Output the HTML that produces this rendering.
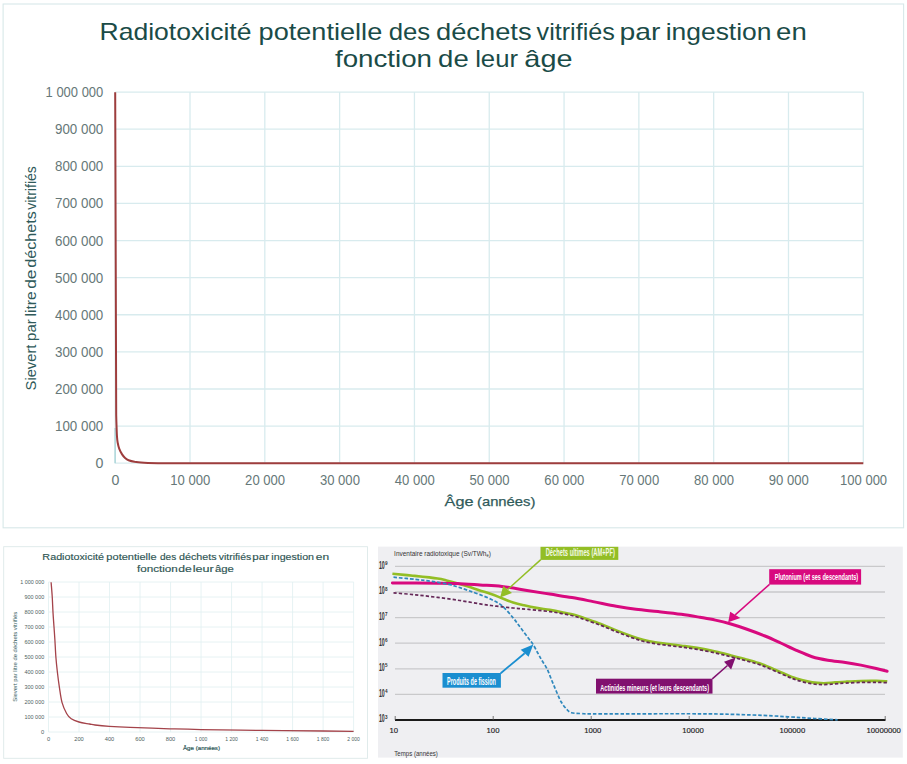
<!DOCTYPE html>
<html><head><meta charset="utf-8"><title>Radiotoxicité</title>
<style>html,body{margin:0;padding:0;background:#fff;width:907px;height:764px;overflow:hidden}svg{display:block}</style>
</head><body>
<svg width="907" height="764" viewBox="0 0 907 764" font-family="'Liberation Sans', sans-serif"><rect x="3.1" y="4.0" width="900.5" height="523.8" fill="#fff" stroke="#d8e8e9" stroke-width="1.1"/>
<text x="99.55" y="39.7" font-size="24" fill="#1a4b47" textLength="151.86" lengthAdjust="spacingAndGlyphs">Radiotoxicité</text>
<text x="258.55" y="39.7" font-size="24" fill="#1a4b47" textLength="123.68" lengthAdjust="spacingAndGlyphs">potentielle</text>
<text x="388.73" y="39.7" font-size="24" fill="#1a4b47" textLength="41.5" lengthAdjust="spacingAndGlyphs">des</text>
<text x="435.98" y="39.7" font-size="24" fill="#1a4b47" textLength="95.64" lengthAdjust="spacingAndGlyphs">déchets</text>
<text x="536.6" y="39.7" font-size="24" fill="#1a4b47" textLength="78.22" lengthAdjust="spacingAndGlyphs">vitrifiés</text>
<text x="619.53" y="39.7" font-size="24" fill="#1a4b47" textLength="40.91" lengthAdjust="spacingAndGlyphs">par</text>
<text x="665.74" y="39.7" font-size="24" fill="#1a4b47" textLength="105.71" lengthAdjust="spacingAndGlyphs">ingestion</text>
<text x="776.12" y="39.7" font-size="24" fill="#1a4b47" textLength="30.63" lengthAdjust="spacingAndGlyphs">en</text>
<text x="335.0" y="67.2" font-size="24" fill="#1a4b47" textLength="97.03" lengthAdjust="spacingAndGlyphs">fonction</text>
<text x="438.11" y="67.2" font-size="24" fill="#1a4b47" textLength="30.6" lengthAdjust="spacingAndGlyphs">de</text>
<text x="475.15" y="67.2" font-size="24" fill="#1a4b47" textLength="42.85" lengthAdjust="spacingAndGlyphs">leur</text>
<text x="524.36" y="67.2" font-size="24" fill="#1a4b47" textLength="48.09" lengthAdjust="spacingAndGlyphs">âge</text>
<line x1="115.2" y1="92.10" x2="863.3" y2="92.10" stroke="#d8ebee" stroke-width="1.3"/>
<line x1="115.2" y1="129.21" x2="863.3" y2="129.21" stroke="#d8ebee" stroke-width="1.3"/>
<line x1="115.2" y1="166.32" x2="863.3" y2="166.32" stroke="#d8ebee" stroke-width="1.3"/>
<line x1="115.2" y1="203.43" x2="863.3" y2="203.43" stroke="#d8ebee" stroke-width="1.3"/>
<line x1="115.2" y1="240.54" x2="863.3" y2="240.54" stroke="#d8ebee" stroke-width="1.3"/>
<line x1="115.2" y1="277.65" x2="863.3" y2="277.65" stroke="#d8ebee" stroke-width="1.3"/>
<line x1="115.2" y1="314.76" x2="863.3" y2="314.76" stroke="#d8ebee" stroke-width="1.3"/>
<line x1="115.2" y1="351.87" x2="863.3" y2="351.87" stroke="#d8ebee" stroke-width="1.3"/>
<line x1="115.2" y1="388.98" x2="863.3" y2="388.98" stroke="#d8ebee" stroke-width="1.3"/>
<line x1="115.2" y1="426.09" x2="863.3" y2="426.09" stroke="#d8ebee" stroke-width="1.3"/>
<line x1="115.2" y1="463.20" x2="863.3" y2="463.20" stroke="#d8ebee" stroke-width="1.3"/>
<line x1="115.20" y1="92.1" x2="115.20" y2="463.2" stroke="#d8ebee" stroke-width="1.3"/>
<line x1="190.01" y1="92.1" x2="190.01" y2="463.2" stroke="#d8ebee" stroke-width="1.3"/>
<line x1="264.82" y1="92.1" x2="264.82" y2="463.2" stroke="#d8ebee" stroke-width="1.3"/>
<line x1="339.63" y1="92.1" x2="339.63" y2="463.2" stroke="#d8ebee" stroke-width="1.3"/>
<line x1="414.44" y1="92.1" x2="414.44" y2="463.2" stroke="#d8ebee" stroke-width="1.3"/>
<line x1="489.25" y1="92.1" x2="489.25" y2="463.2" stroke="#d8ebee" stroke-width="1.3"/>
<line x1="564.06" y1="92.1" x2="564.06" y2="463.2" stroke="#d8ebee" stroke-width="1.3"/>
<line x1="638.87" y1="92.1" x2="638.87" y2="463.2" stroke="#d8ebee" stroke-width="1.3"/>
<line x1="713.68" y1="92.1" x2="713.68" y2="463.2" stroke="#d8ebee" stroke-width="1.3"/>
<line x1="788.49" y1="92.1" x2="788.49" y2="463.2" stroke="#d8ebee" stroke-width="1.3"/>
<line x1="863.30" y1="92.1" x2="863.30" y2="463.2" stroke="#d8ebee" stroke-width="1.3"/>
<text x="103.3" y="97.10" font-size="14" fill="#667878" text-anchor="end" textLength="57.7" lengthAdjust="spacingAndGlyphs">1 000 000</text>
<text x="103.3" y="134.21" font-size="14" fill="#667878" text-anchor="end" textLength="48.3" lengthAdjust="spacingAndGlyphs">900 000</text>
<text x="103.3" y="171.32" font-size="14" fill="#667878" text-anchor="end" textLength="48.3" lengthAdjust="spacingAndGlyphs">800 000</text>
<text x="103.3" y="208.43" font-size="14" fill="#667878" text-anchor="end" textLength="48.3" lengthAdjust="spacingAndGlyphs">700 000</text>
<text x="103.3" y="245.54" font-size="14" fill="#667878" text-anchor="end" textLength="48.3" lengthAdjust="spacingAndGlyphs">600 000</text>
<text x="103.3" y="282.65" font-size="14" fill="#667878" text-anchor="end" textLength="48.3" lengthAdjust="spacingAndGlyphs">500 000</text>
<text x="103.3" y="319.76" font-size="14" fill="#667878" text-anchor="end" textLength="48.3" lengthAdjust="spacingAndGlyphs">400 000</text>
<text x="103.3" y="356.87" font-size="14" fill="#667878" text-anchor="end" textLength="48.3" lengthAdjust="spacingAndGlyphs">300 000</text>
<text x="103.3" y="393.98" font-size="14" fill="#667878" text-anchor="end" textLength="48.3" lengthAdjust="spacingAndGlyphs">200 000</text>
<text x="103.3" y="431.09" font-size="14" fill="#667878" text-anchor="end" textLength="48.3" lengthAdjust="spacingAndGlyphs">100 000</text>
<text x="103.3" y="468.20" font-size="14" fill="#667878" text-anchor="end" textLength="7.9" lengthAdjust="spacingAndGlyphs">0</text>
<text x="115.50" y="485.3" font-size="14" fill="#667878" text-anchor="middle" textLength="7.9" lengthAdjust="spacingAndGlyphs">0</text>
<text x="190.31" y="485.3" font-size="14" fill="#667878" text-anchor="middle" textLength="40" lengthAdjust="spacingAndGlyphs">10 000</text>
<text x="265.12" y="485.3" font-size="14" fill="#667878" text-anchor="middle" textLength="40" lengthAdjust="spacingAndGlyphs">20 000</text>
<text x="339.93" y="485.3" font-size="14" fill="#667878" text-anchor="middle" textLength="40" lengthAdjust="spacingAndGlyphs">30 000</text>
<text x="414.74" y="485.3" font-size="14" fill="#667878" text-anchor="middle" textLength="40" lengthAdjust="spacingAndGlyphs">40 000</text>
<text x="489.55" y="485.3" font-size="14" fill="#667878" text-anchor="middle" textLength="40" lengthAdjust="spacingAndGlyphs">50 000</text>
<text x="564.36" y="485.3" font-size="14" fill="#667878" text-anchor="middle" textLength="40" lengthAdjust="spacingAndGlyphs">60 000</text>
<text x="639.17" y="485.3" font-size="14" fill="#667878" text-anchor="middle" textLength="40" lengthAdjust="spacingAndGlyphs">70 000</text>
<text x="713.98" y="485.3" font-size="14" fill="#667878" text-anchor="middle" textLength="40" lengthAdjust="spacingAndGlyphs">80 000</text>
<text x="788.79" y="485.3" font-size="14" fill="#667878" text-anchor="middle" textLength="40" lengthAdjust="spacingAndGlyphs">90 000</text>
<text x="863.60" y="485.3" font-size="14" fill="#667878" text-anchor="middle" textLength="47" lengthAdjust="spacingAndGlyphs">100 000</text>
<text x="444.57" y="505.8" font-size="13.5" fill="#2f5a5a" stroke="#2f5a5a" stroke-width="0.25" textLength="28.88" lengthAdjust="spacingAndGlyphs">Âge</text>
<text x="476.98" y="505.8" font-size="13.5" fill="#2f5a5a" stroke="#2f5a5a" stroke-width="0.25" textLength="58.44" lengthAdjust="spacingAndGlyphs">(années)</text>
<text transform="translate(36.2 390.44) rotate(-90)" font-size="14.5" fill="#2f5a5a" textLength="45.85" lengthAdjust="spacingAndGlyphs">Sievert</text>
<text transform="translate(36.2 340.89) rotate(-90)" font-size="14.5" fill="#2f5a5a" textLength="21.54" lengthAdjust="spacingAndGlyphs">par</text>
<text transform="translate(36.2 316.48) rotate(-90)" font-size="14.5" fill="#2f5a5a" textLength="25.13" lengthAdjust="spacingAndGlyphs">litre</text>
<text transform="translate(36.2 288.87) rotate(-90)" font-size="14.5" fill="#2f5a5a" textLength="19.36" lengthAdjust="spacingAndGlyphs">de</text>
<text transform="translate(36.2 267.81) rotate(-90)" font-size="14.5" fill="#2f5a5a" textLength="56.62" lengthAdjust="spacingAndGlyphs">déchets</text>
<text transform="translate(36.2 209.81) rotate(-90)" font-size="14.5" fill="#2f5a5a" textLength="43.62" lengthAdjust="spacingAndGlyphs">vitrifiés</text>
<line x1="115.1" y1="428" x2="115.1" y2="463.3" stroke="#a6d3d8" stroke-width="1.3"/>
<path d="M115.2,92.3 L116.20,415.00 C116.25,416.67 116.37,421.37 116.50,425.00 C116.63,428.63 116.80,433.85 117.00,436.80 C117.20,439.75 117.33,440.73 117.70,442.70 C118.07,444.67 118.47,446.65 119.20,448.60 C119.93,450.55 121.12,452.83 122.10,454.40 C123.08,455.97 124.02,457.02 125.10,458.00 C126.18,458.98 127.03,459.67 128.60,460.30 C130.17,460.93 131.27,461.37 134.50,461.80 C137.73,462.23 137.08,462.67 148.00,462.90 C158.92,463.13 174.67,463.13 200.00,463.20 C225.33,463.27 283.33,463.28 300.00,463.30 L863.3,463.3" fill="none" stroke="#9e3d3d" stroke-width="2.0"/>
<rect x="3.7" y="546.7" width="363.8" height="211.6" fill="#fff" stroke="#dde9e9" stroke-width="0.9"/>
<text x="42.38" y="560.4" font-size="9.3" fill="#2e5553" stroke="#2e5553" stroke-width="0.15" textLength="61.63" lengthAdjust="spacingAndGlyphs">Radiotoxicité</text>
<text x="106.39" y="560.4" font-size="9.3" fill="#2e5553" stroke="#2e5553" stroke-width="0.15" textLength="50.23" lengthAdjust="spacingAndGlyphs">potentielle</text>
<text x="160.0" y="560.4" font-size="9.3" fill="#2e5553" stroke="#2e5553" stroke-width="0.15" textLength="16.23" lengthAdjust="spacingAndGlyphs">des</text>
<text x="179.0" y="560.4" font-size="9.3" fill="#2e5553" stroke="#2e5553" stroke-width="0.15" textLength="37.61" lengthAdjust="spacingAndGlyphs">déchets</text>
<text x="218.78" y="560.4" font-size="9.3" fill="#2e5553" stroke="#2e5553" stroke-width="0.15" textLength="32.43" lengthAdjust="spacingAndGlyphs">vitrifiés</text>
<text x="252.36" y="560.4" font-size="9.3" fill="#2e5553" stroke="#2e5553" stroke-width="0.15" textLength="16.64" lengthAdjust="spacingAndGlyphs">par</text>
<text x="271.38" y="560.4" font-size="9.3" fill="#2e5553" stroke="#2e5553" stroke-width="0.15" textLength="42.64" lengthAdjust="spacingAndGlyphs">ingestion</text>
<text x="315.8" y="560.4" font-size="9.3" fill="#2e5553" stroke="#2e5553" stroke-width="0.15" textLength="13.34" lengthAdjust="spacingAndGlyphs">en</text>
<text x="136.97" y="572.2" font-size="9.3" fill="#2e5553" stroke="#2e5553" stroke-width="0.15" textLength="40.88" lengthAdjust="spacingAndGlyphs">fonction</text>
<text x="178.31" y="572.2" font-size="9.3" fill="#2e5553" stroke="#2e5553" stroke-width="0.15" textLength="13.53" lengthAdjust="spacingAndGlyphs">de</text>
<text x="192.77" y="572.2" font-size="9.3" fill="#2e5553" stroke="#2e5553" stroke-width="0.15" textLength="21.05" lengthAdjust="spacingAndGlyphs">leur</text>
<text x="214.96" y="572.2" font-size="9.3" fill="#2e5553" stroke="#2e5553" stroke-width="0.15" textLength="18.87" lengthAdjust="spacingAndGlyphs">âge</text>
<line x1="48.5" y1="582.00" x2="353.6" y2="582.00" stroke="#e0eff0" stroke-width="0.8"/>
<line x1="48.5" y1="597.00" x2="353.6" y2="597.00" stroke="#e0eff0" stroke-width="0.8"/>
<line x1="48.5" y1="612.00" x2="353.6" y2="612.00" stroke="#e0eff0" stroke-width="0.8"/>
<line x1="48.5" y1="627.00" x2="353.6" y2="627.00" stroke="#e0eff0" stroke-width="0.8"/>
<line x1="48.5" y1="642.00" x2="353.6" y2="642.00" stroke="#e0eff0" stroke-width="0.8"/>
<line x1="48.5" y1="657.00" x2="353.6" y2="657.00" stroke="#e0eff0" stroke-width="0.8"/>
<line x1="48.5" y1="672.00" x2="353.6" y2="672.00" stroke="#e0eff0" stroke-width="0.8"/>
<line x1="48.5" y1="687.00" x2="353.6" y2="687.00" stroke="#e0eff0" stroke-width="0.8"/>
<line x1="48.5" y1="702.00" x2="353.6" y2="702.00" stroke="#e0eff0" stroke-width="0.8"/>
<line x1="48.5" y1="717.00" x2="353.6" y2="717.00" stroke="#e0eff0" stroke-width="0.8"/>
<line x1="48.5" y1="732.00" x2="353.6" y2="732.00" stroke="#e0eff0" stroke-width="0.8"/>
<line x1="48.50" y1="582.0" x2="48.50" y2="732.0" stroke="#e0eff0" stroke-width="0.8"/>
<line x1="79.01" y1="582.0" x2="79.01" y2="732.0" stroke="#e0eff0" stroke-width="0.8"/>
<line x1="109.52" y1="582.0" x2="109.52" y2="732.0" stroke="#e0eff0" stroke-width="0.8"/>
<line x1="140.03" y1="582.0" x2="140.03" y2="732.0" stroke="#e0eff0" stroke-width="0.8"/>
<line x1="170.54" y1="582.0" x2="170.54" y2="732.0" stroke="#e0eff0" stroke-width="0.8"/>
<line x1="201.05" y1="582.0" x2="201.05" y2="732.0" stroke="#e0eff0" stroke-width="0.8"/>
<line x1="231.56" y1="582.0" x2="231.56" y2="732.0" stroke="#e0eff0" stroke-width="0.8"/>
<line x1="262.07" y1="582.0" x2="262.07" y2="732.0" stroke="#e0eff0" stroke-width="0.8"/>
<line x1="292.58" y1="582.0" x2="292.58" y2="732.0" stroke="#e0eff0" stroke-width="0.8"/>
<line x1="323.09" y1="582.0" x2="323.09" y2="732.0" stroke="#e0eff0" stroke-width="0.8"/>
<line x1="353.60" y1="582.0" x2="353.60" y2="732.0" stroke="#e0eff0" stroke-width="0.8"/>
<text x="44.2" y="584.00" font-size="5.7" fill="#4f5f5f" text-anchor="end" textLength="23.9" lengthAdjust="spacingAndGlyphs">1 000 000</text>
<text x="44.2" y="599.00" font-size="5.7" fill="#4f5f5f" text-anchor="end" textLength="19.7" lengthAdjust="spacingAndGlyphs">900 000</text>
<text x="44.2" y="614.00" font-size="5.7" fill="#4f5f5f" text-anchor="end" textLength="19.7" lengthAdjust="spacingAndGlyphs">800 000</text>
<text x="44.2" y="629.00" font-size="5.7" fill="#4f5f5f" text-anchor="end" textLength="19.7" lengthAdjust="spacingAndGlyphs">700 000</text>
<text x="44.2" y="644.00" font-size="5.7" fill="#4f5f5f" text-anchor="end" textLength="19.7" lengthAdjust="spacingAndGlyphs">600 000</text>
<text x="44.2" y="659.00" font-size="5.7" fill="#4f5f5f" text-anchor="end" textLength="19.7" lengthAdjust="spacingAndGlyphs">500 000</text>
<text x="44.2" y="674.00" font-size="5.7" fill="#4f5f5f" text-anchor="end" textLength="19.7" lengthAdjust="spacingAndGlyphs">400 000</text>
<text x="44.2" y="689.00" font-size="5.7" fill="#4f5f5f" text-anchor="end" textLength="19.7" lengthAdjust="spacingAndGlyphs">300 000</text>
<text x="44.2" y="704.00" font-size="5.7" fill="#4f5f5f" text-anchor="end" textLength="19.7" lengthAdjust="spacingAndGlyphs">200 000</text>
<text x="44.2" y="719.00" font-size="5.7" fill="#4f5f5f" text-anchor="end" textLength="19.7" lengthAdjust="spacingAndGlyphs">100 000</text>
<text x="44.2" y="734.00" font-size="5.7" fill="#4f5f5f" text-anchor="end" textLength="3.2" lengthAdjust="spacingAndGlyphs">0</text>
<text x="48.50" y="741" font-size="5.7" fill="#4f5f5f" text-anchor="middle" textLength="3.2" lengthAdjust="spacingAndGlyphs">0</text>
<text x="79.01" y="741" font-size="5.7" fill="#4f5f5f" text-anchor="middle" textLength="9.5" lengthAdjust="spacingAndGlyphs">200</text>
<text x="109.52" y="741" font-size="5.7" fill="#4f5f5f" text-anchor="middle" textLength="9.5" lengthAdjust="spacingAndGlyphs">400</text>
<text x="140.03" y="741" font-size="5.7" fill="#4f5f5f" text-anchor="middle" textLength="9.5" lengthAdjust="spacingAndGlyphs">600</text>
<text x="170.54" y="741" font-size="5.7" fill="#4f5f5f" text-anchor="middle" textLength="9.5" lengthAdjust="spacingAndGlyphs">800</text>
<text x="201.05" y="741" font-size="5.7" fill="#4f5f5f" text-anchor="middle" textLength="12.5" lengthAdjust="spacingAndGlyphs">1 000</text>
<text x="231.56" y="741" font-size="5.7" fill="#4f5f5f" text-anchor="middle" textLength="12.5" lengthAdjust="spacingAndGlyphs">1 200</text>
<text x="262.07" y="741" font-size="5.7" fill="#4f5f5f" text-anchor="middle" textLength="12.5" lengthAdjust="spacingAndGlyphs">1 400</text>
<text x="292.58" y="741" font-size="5.7" fill="#4f5f5f" text-anchor="middle" textLength="12.5" lengthAdjust="spacingAndGlyphs">1 600</text>
<text x="323.09" y="741" font-size="5.7" fill="#4f5f5f" text-anchor="middle" textLength="12.5" lengthAdjust="spacingAndGlyphs">1 800</text>
<text x="353.60" y="741" font-size="5.7" fill="#4f5f5f" text-anchor="middle" textLength="12.5" lengthAdjust="spacingAndGlyphs">2 000</text>
<text x="201.5" y="750" font-size="5.8" fill="#2f5a5a" stroke="#2f5a5a" stroke-width="0.2" text-anchor="middle" textLength="37" lengthAdjust="spacingAndGlyphs">Âge (années)</text>
<text transform="translate(17 656.8) rotate(-90)" font-size="5.9" fill="#2f5a5a" text-anchor="middle" textLength="90" lengthAdjust="spacingAndGlyphs">Sievert par litre de déchets vitrifiés</text>
<path d="M51.10,582.20 C51.28,584.55 51.88,591.27 52.20,596.30 C52.52,601.33 52.70,607.30 53.00,612.40 C53.30,617.50 53.68,622.30 54.00,626.90 C54.32,631.50 54.58,634.93 54.90,640.00 C55.22,645.07 55.48,651.92 55.90,657.30 C56.32,662.68 56.82,667.28 57.40,672.30 C57.98,677.32 58.63,682.38 59.40,687.40 C60.17,692.42 60.80,698.05 62.00,702.40 C63.20,706.75 65.07,710.77 66.60,713.50 C68.13,716.23 69.13,717.38 71.20,718.80 C73.27,720.22 75.95,721.13 79.00,722.00 C82.05,722.87 86.83,723.50 89.50,724.00 C92.17,724.50 91.68,724.62 95.00,725.00 C98.32,725.38 103.57,725.90 109.40,726.30 C115.23,726.70 119.90,726.98 130.00,727.40 C140.10,727.82 158.17,728.43 170.00,728.80 C181.83,729.17 185.67,729.33 201.00,729.60 C216.33,729.87 241.67,730.17 262.00,730.40 C282.33,730.63 307.73,730.85 323.00,731.00 C338.27,731.15 348.50,731.25 353.60,731.30" fill="none" stroke="#a4434a" stroke-width="1.3"/>
<rect x="378" y="546.6" width="524.8" height="211" fill="#efeff2"/>
<line x1="395" y1="694.4" x2="885" y2="694.4" stroke="#c9c9cb" stroke-width="1.3"/>
<line x1="395" y1="668.8" x2="885" y2="668.8" stroke="#c9c9cb" stroke-width="1.3"/>
<line x1="395" y1="643.2" x2="885" y2="643.2" stroke="#c9c9cb" stroke-width="1.3"/>
<line x1="395" y1="617.6" x2="885" y2="617.6" stroke="#c9c9cb" stroke-width="1.3"/>
<line x1="395" y1="592.0" x2="885" y2="592.0" stroke="#c9c9cb" stroke-width="1.3"/>
<line x1="395" y1="566.4" x2="885" y2="566.4" stroke="#c9c9cb" stroke-width="1.3"/>
<line x1="395" y1="720" x2="885.5" y2="720" stroke="#1a1a1a" stroke-width="2.2"/>
<line x1="395.2" y1="716" x2="395.2" y2="720" stroke="#555" stroke-width="0.8"/>
<line x1="493.2" y1="716" x2="493.2" y2="720" stroke="#555" stroke-width="0.8"/>
<line x1="591.2" y1="716" x2="591.2" y2="720" stroke="#555" stroke-width="0.8"/>
<line x1="689.2" y1="716" x2="689.2" y2="720" stroke="#555" stroke-width="0.8"/>
<line x1="787.2" y1="716" x2="787.2" y2="720" stroke="#555" stroke-width="0.8"/>
<line x1="885.2" y1="716" x2="885.2" y2="720" stroke="#555" stroke-width="0.8"/>
<text x="378.9" y="722.4" font-size="10" font-weight="bold" fill="#333" textLength="5.8" lengthAdjust="spacingAndGlyphs">10</text>
<text x="384.9" y="718.6" font-size="4.6" font-weight="bold" fill="#333">3</text>
<text x="378.9" y="696.8" font-size="10" font-weight="bold" fill="#333" textLength="5.8" lengthAdjust="spacingAndGlyphs">10</text>
<text x="384.9" y="693.0" font-size="4.6" font-weight="bold" fill="#333">4</text>
<text x="378.9" y="671.2" font-size="10" font-weight="bold" fill="#333" textLength="5.8" lengthAdjust="spacingAndGlyphs">10</text>
<text x="384.9" y="667.4" font-size="4.6" font-weight="bold" fill="#333">5</text>
<text x="378.9" y="645.6" font-size="10" font-weight="bold" fill="#333" textLength="5.8" lengthAdjust="spacingAndGlyphs">10</text>
<text x="384.9" y="641.8" font-size="4.6" font-weight="bold" fill="#333">6</text>
<text x="378.9" y="620.0" font-size="10" font-weight="bold" fill="#333" textLength="5.8" lengthAdjust="spacingAndGlyphs">10</text>
<text x="384.9" y="616.2" font-size="4.6" font-weight="bold" fill="#333">7</text>
<text x="378.9" y="594.4" font-size="10" font-weight="bold" fill="#333" textLength="5.8" lengthAdjust="spacingAndGlyphs">10</text>
<text x="384.9" y="590.6" font-size="4.6" font-weight="bold" fill="#333">8</text>
<text x="378.9" y="568.8" font-size="10" font-weight="bold" fill="#333" textLength="5.8" lengthAdjust="spacingAndGlyphs">10</text>
<text x="384.9" y="565.0" font-size="4.6" font-weight="bold" fill="#333">9</text>
<text x="393.7" y="733.3" font-size="7.8" fill="#222" stroke="#222" stroke-width="0.15" text-anchor="middle" textLength="8.6" lengthAdjust="spacingAndGlyphs">10</text>
<text x="493" y="733.3" font-size="7.8" fill="#222" stroke="#222" stroke-width="0.15" text-anchor="middle" textLength="12.9" lengthAdjust="spacingAndGlyphs">100</text>
<text x="592.8" y="733.3" font-size="7.8" fill="#222" stroke="#222" stroke-width="0.15" text-anchor="middle" textLength="17.2" lengthAdjust="spacingAndGlyphs">1000</text>
<text x="693" y="733.3" font-size="7.8" fill="#222" stroke="#222" stroke-width="0.15" text-anchor="middle" textLength="21.5" lengthAdjust="spacingAndGlyphs">10000</text>
<text x="792.3" y="733.3" font-size="7.8" fill="#222" stroke="#222" stroke-width="0.15" text-anchor="middle" textLength="25.8" lengthAdjust="spacingAndGlyphs">100000</text>
<text x="883.7" y="733.3" font-size="7.8" fill="#222" stroke="#222" stroke-width="0.15" text-anchor="middle" textLength="34.4" lengthAdjust="spacingAndGlyphs">10000000</text>
<text x="394.1" y="555.9" font-size="7.2" fill="#333" textLength="96.8" lengthAdjust="spacingAndGlyphs">Inventaire radiotoxique (Sv/TWh<tspan font-size="4.5" dy="1">e</tspan><tspan dy="-1">)</tspan></text>
<text x="394.3" y="755.8" font-size="7.2" fill="#333" textLength="43.6" lengthAdjust="spacingAndGlyphs">Temps (années)</text>
<path d="M392.40,573.70 C395.80,574.03 405.27,574.90 412.80,575.70 C420.33,576.50 432.07,577.73 437.60,578.50 C443.13,579.27 443.22,579.65 446.00,580.30 C448.78,580.95 450.62,581.37 454.30,582.40 C457.98,583.43 463.97,585.18 468.10,586.50 C472.23,587.82 475.28,589.07 479.10,590.30 C482.92,591.53 487.18,592.58 491.00,593.90 C494.82,595.22 498.32,596.78 502.00,598.20 C505.68,599.62 509.42,601.22 513.10,602.40 C516.78,603.58 520.22,604.38 524.10,605.30 C527.98,606.22 532.12,607.13 536.40,607.90 C540.68,608.67 545.53,609.18 549.80,609.90 C554.07,610.62 557.80,611.35 562.00,612.20 C566.20,613.05 571.10,613.95 575.00,615.00 C578.90,616.05 581.08,617.00 585.40,618.50 C589.72,620.00 595.75,622.02 600.90,624.00 C606.05,625.98 611.17,628.37 616.30,630.40 C621.43,632.43 627.25,634.63 631.70,636.20 C636.15,637.77 639.12,638.78 643.00,639.80 C646.88,640.82 651.18,641.63 655.00,642.30 C658.82,642.97 661.52,643.23 665.90,643.80 C670.28,644.37 676.12,645.02 681.30,645.70 C686.48,646.38 691.32,646.92 697.00,647.90 C702.68,648.88 709.75,650.35 715.40,651.60 C721.05,652.85 725.75,654.10 730.90,655.40 C736.05,656.70 741.12,657.93 746.30,659.40 C751.48,660.87 756.27,662.07 762.00,664.20 C767.73,666.33 774.97,669.80 780.70,672.20 C786.43,674.60 791.17,676.90 796.40,678.60 C801.63,680.30 807.52,681.63 812.10,682.40 C816.68,683.17 820.08,683.20 823.90,683.20 C827.72,683.20 831.42,682.65 835.00,682.40 C838.58,682.15 841.08,681.93 845.40,681.70 C849.72,681.47 855.75,681.13 860.90,681.00 C866.05,680.87 871.90,680.85 876.30,680.90 C880.70,680.95 885.47,681.23 887.30,681.30" fill="none" stroke="#93be25" stroke-width="2.6"/>
<path d="M392.40,582.90 C399.93,582.95 426.83,583.08 437.60,583.20 C448.37,583.32 449.93,583.30 457.00,583.60 C464.07,583.90 472.50,584.52 480.00,585.00 C487.50,585.48 494.17,585.60 502.00,586.50 C509.83,587.40 519.03,589.13 527.00,590.40 C534.97,591.67 542.30,592.90 549.80,594.10 C557.30,595.30 564.78,596.35 572.00,597.60 C579.22,598.85 585.72,600.17 593.10,601.60 C600.48,603.03 609.15,604.92 616.30,606.20 C623.45,607.48 629.03,608.40 636.00,609.30 C642.97,610.20 650.55,610.77 658.10,611.60 C665.65,612.43 674.32,613.35 681.30,614.30 C688.28,615.25 694.32,616.33 700.00,617.30 C705.68,618.27 710.25,618.98 715.40,620.10 C720.55,621.22 725.75,622.52 730.90,624.00 C736.05,625.48 740.62,627.00 746.30,629.00 C751.98,631.00 759.27,633.67 765.00,636.00 C770.73,638.33 775.47,640.60 780.70,643.00 C785.93,645.40 791.17,648.12 796.40,650.40 C801.63,652.68 806.87,655.07 812.10,656.70 C817.33,658.33 822.25,659.25 827.80,660.20 C833.35,661.15 839.88,661.58 845.40,662.40 C850.92,663.22 855.75,664.08 860.90,665.10 C866.05,666.12 871.93,667.47 876.30,668.50 C880.67,669.53 885.30,670.83 887.10,671.30" fill="none" stroke="#d8097e" stroke-width="3" stroke-linecap="round"/>
<path d="M393.50,592.80 C397.18,593.13 408.25,594.03 415.60,594.80 C422.95,595.57 430.23,596.45 437.60,597.40 C444.97,598.35 452.73,599.42 459.80,600.50 C466.87,601.58 473.88,602.95 480.00,603.90 C486.12,604.85 490.98,605.52 496.50,606.20 C502.02,606.88 507.75,607.47 513.10,608.00 C518.45,608.53 522.48,608.80 528.60,609.40 C534.72,610.00 544.23,610.90 549.80,611.60 C555.37,612.30 557.80,612.80 562.00,613.60 C566.20,614.40 571.10,615.35 575.00,616.40 C578.90,617.45 581.08,618.40 585.40,619.90 C589.72,621.40 595.75,623.42 600.90,625.40 C606.05,627.38 611.17,629.77 616.30,631.80 C621.43,633.83 627.25,636.03 631.70,637.60 C636.15,639.17 639.12,640.18 643.00,641.20 C646.88,642.22 651.18,643.03 655.00,643.70 C658.82,644.37 661.52,644.63 665.90,645.20 C670.28,645.77 676.12,646.42 681.30,647.10 C686.48,647.78 691.32,648.32 697.00,649.30 C702.68,650.28 709.75,651.75 715.40,653.00 C721.05,654.25 725.75,655.50 730.90,656.80 C736.05,658.10 741.12,659.33 746.30,660.80 C751.48,662.27 756.27,663.47 762.00,665.60 C767.73,667.73 774.97,671.20 780.70,673.60 C786.43,676.00 791.17,678.30 796.40,680.00 C801.63,681.70 807.52,683.03 812.10,683.80 C816.68,684.57 820.08,684.60 823.90,684.60 C827.72,684.60 831.42,684.05 835.00,683.80 C838.58,683.55 841.08,683.33 845.40,683.10 C849.72,682.87 855.75,682.53 860.90,682.40 C866.05,682.27 871.90,682.25 876.30,682.30 C880.70,682.35 885.47,682.63 887.30,682.70" fill="none" stroke="#652858" stroke-width="1.7" stroke-dasharray="3.3 2.1"/>
<path d="M393.50,577.20 C397.18,577.57 409.17,578.70 415.60,579.40 C422.03,580.10 426.57,580.57 432.10,581.40 C437.63,582.23 444.37,583.42 448.80,584.40 C453.23,585.38 455.48,586.30 458.70,587.30 C461.92,588.30 464.70,589.23 468.10,590.40 C471.50,591.57 475.28,592.82 479.10,594.30 C482.92,595.78 487.18,597.40 491.00,599.30 C494.82,601.20 498.35,602.65 502.00,605.70 C505.65,608.75 509.78,613.90 512.90,617.60 C516.02,621.30 518.08,624.42 520.70,627.90 C523.32,631.38 526.50,635.68 528.60,638.50 C530.70,641.32 531.73,642.32 533.30,644.80 C534.87,647.28 536.67,650.97 538.00,653.40 C539.33,655.83 539.80,656.83 541.30,659.40 C542.80,661.97 545.27,665.33 547.00,668.80 C548.73,672.27 550.13,676.42 551.70,680.20 C553.27,683.98 554.83,687.90 556.40,691.50 C557.97,695.10 559.37,698.82 561.10,701.80 C562.83,704.78 565.07,707.58 566.80,709.40 C568.53,711.22 569.00,712.00 571.50,712.70 C574.00,713.40 577.05,713.40 581.80,713.60 C586.55,713.80 580.30,713.87 600.00,713.90 C619.70,713.93 674.52,713.62 700.00,713.80 C725.48,713.98 738.20,714.50 752.90,715.00 C767.60,715.50 777.92,716.22 788.20,716.80 C798.48,717.38 806.37,718.00 814.60,718.50 C822.83,719.00 833.77,719.58 837.60,719.80" fill="none" stroke="#2f88bd" stroke-width="1.7" stroke-dasharray="3.6 1.9"/>
<line x1="540.8" y1="559.6" x2="507.6" y2="589.5" stroke="#93be25" stroke-width="1.5"/>
<polygon points="500.1,597.4 503.2,586.1 512,593" fill="#93be25"/>
<rect x="540.5" y="546.8" width="77.8" height="13.1" fill="#93be25"/>
<text x="545.7" y="555.9" font-size="10" font-weight="bold" fill="#f4fae6" textLength="69.2" lengthAdjust="spacingAndGlyphs">Déchets ultimes (AM+PF)</text>
<line x1="769.5" y1="584.4" x2="735.2" y2="614.9" stroke="#d8097e" stroke-width="1.5"/>
<polygon points="728.2,622.2 730.2,611.7 740.3,618" fill="#d8097e"/>
<rect x="769.2" y="569.2" width="91.9" height="15.4" fill="#d8097e"/>
<text x="774.7" y="580.4" font-size="9.8" font-weight="bold" fill="#fff" textLength="83.5" lengthAdjust="spacingAndGlyphs">Plutonium (et ses descendants)</text>
<line x1="500.7" y1="673.2" x2="524.7" y2="653.2" stroke="#1a8ed0" stroke-width="1.8"/>
<polygon points="533.3,644.5 520.7,649.7 528.6,656.8" fill="#1a8ed0"/>
<rect x="442.5" y="673" width="58.4" height="14.7" fill="#1a8ed0"/>
<text x="447.1" y="684.6" font-size="10.4" font-weight="bold" fill="#fff" textLength="48.8" lengthAdjust="spacingAndGlyphs">Produits de fission</text>
<line x1="712.3" y1="678.9" x2="727.5" y2="665.5" stroke="#81106f" stroke-width="1.5"/>
<polygon points="735.6,657.6 724,661.7 731.1,669.4" fill="#81106f"/>
<rect x="596" y="678.7" width="116.5" height="14.9" fill="#81106f"/>
<text x="600.3" y="690.5" font-size="9.8" font-weight="bold" fill="#fff" textLength="108.7" lengthAdjust="spacingAndGlyphs">Actinides mineurs (et leurs descendants)</text></svg>
</body></html>
